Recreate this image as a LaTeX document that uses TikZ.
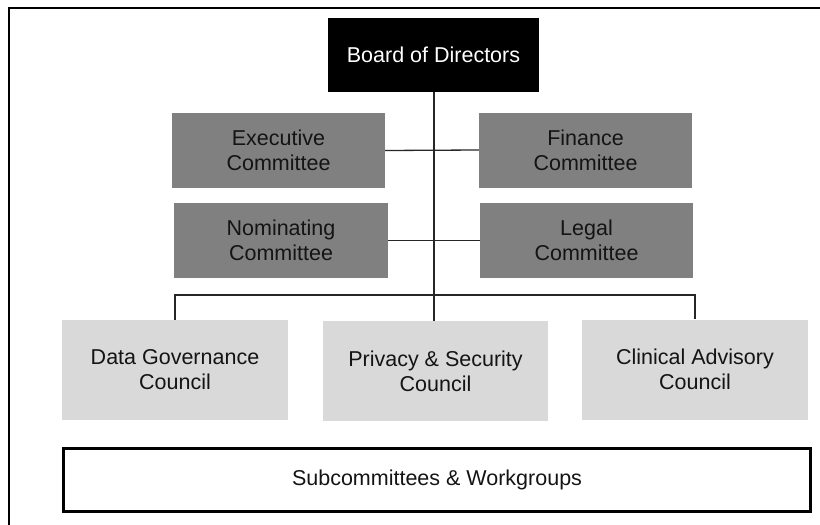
\documentclass[tikz,border=0pt]{standalone}
\usepackage{fontspec}
\setmainfont{Liberation Sans}
\definecolor{darkbox}{HTML}{808080}
\definecolor{lightbox}{HTML}{D9D9D9}
\definecolor{txt}{HTML}{141414}
\begin{document}
\begin{tikzpicture}[x=1pt,y=-1pt,
  box/.style={rectangle, inner sep=0pt, align=center, text=txt,
    font=\fontsize{21.5}{25}\selectfont},
  boardbox/.style={box, fill=black, text=white, minimum width=211pt, minimum height=74pt},
  committee/.style={box, fill=darkbox, minimum width=213pt, minimum height=75pt},
  council/.style={box, fill=lightbox, minimum width=226pt, minimum height=100pt},
  subbox/.style={box, draw=black, line width=3pt, fill=white, minimum width=747pt, minimum height=63pt},
  link/.style={draw=black!85, line width=1.3pt}]
\useasboundingbox (0,0) rectangle (820,525);
\clip (0,0) rectangle (820,525);
\draw[line width=2.5pt] (9,8) rectangle (850,560);

\node[boardbox] (board) at (433.5,55) {Board of Directors};
\node[committee] (exec) at (278.5,150.5) {Executive\\Committee};
\node[committee] (fin) at (585.5,150) {Finance\\Committee};
\node[committee, minimum width=214pt] (nom) at (281,240.5) {Nominating\\Committee};
\node[committee] (legal) at (586.5,240.5) {Legal\\Committee};
\node[council] (dg) at (175,370) {Data Governance\\Council};
\node[council, minimum width=225pt] (priv) at (435.5,371) {Privacy \& Security\\Council};
\node[council] (ca) at (695,369.5) {Clinical Advisory\\Council};
\node[subbox] (sub) at (437,480) {Subcommittees \& Workgroups};

\coordinate (bus) at (434,295);
\path[link] (board.south -| bus) -- (bus |- priv.north);
\path[link] (exec.east) -- (fin.west);
\path[link] (nom.east) -- (legal.west);
\path[link] (dg.north) |- (bus) -| (ca.north);
\end{tikzpicture}
\end{document}
